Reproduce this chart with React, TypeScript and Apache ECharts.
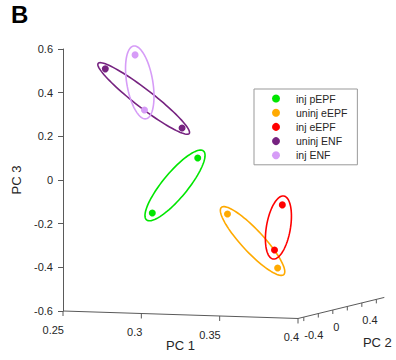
import React, { useEffect, useRef } from "react";
import * as echarts from "echarts";

// ---- data (projected PC1 / PC3 values) ----
const GROUPS = ["inj pEPF", "uninj eEPF", "inj eEPF", "uninj ENF", "inj ENF"];
const PC1_VALUES = [
  [0.336, 0.307],
  [0.355, 0.387],
  [0.39, 0.385],
  [0.277, 0.326],
  [0.296, 0.302],
];
const PC3_VALUES = [
  [0.101, -0.151],
  [-0.156, -0.403],
  [-0.114, -0.321],
  [0.509, 0.238],
  [0.573, 0.321],
];
const PC1_TICKS = [0.25, 0.3, 0.35, 0.4];
const PC2_TICKS = [-0.6, -0.4, -0.2, 0, 0.2, 0.4];
const PC2_LABELED = [-0.4, 0, 0.4];
const PC3_TICKS = [-0.6, -0.4, -0.2, 0, 0.2, 0.4, 0.6];

// ---- styles ----
const COLORS = ["#00e600", "#ffaa00", "#ff0000", "#762380", "#d69cf7"];
const ELLIPSE_MINOR = [12.5, 11, 12, 9, 13];
const ELLIPSE_EXT = 9;
const FONT = "Liberation Sans, Arial, Helvetica, sans-serif";
const AXIS_COLOR = "#5a5a5a";
const TEXT_COLOR = "#262626";

// axis limits / projection of the 3D box
const PC1_MIN = 0.25;
const PC1_MAX = 0.4;
const PC3_MIN = -0.6;
const PC3_MAX = 0.6;
const PC2_MIN = -0.68;
const PC2_MAX = 0.51;
const PC1_TILT = 0.229; // PC3 units dropped per PC1 unit along the front-bottom edge
const PC2_DIR = [0.0463, 0.0811]; // screen (PC1, PC3) units per PC2 unit

const pc1Point = (u: number) => [u, PC3_MIN - PC1_TILT * (u - PC1_MIN)];
const pc2Point = (v: number) => {
  const base = pc1Point(PC1_MAX);
  return [base[0] + (v - PC2_MIN) * PC2_DIR[0], base[1] + (v - PC2_MIN) * PC2_DIR[1]];
};

export default function App() {
  const ref = useRef<HTMLDivElement>(null);
  useEffect(() => {
    if (!ref.current) return;
    document.body.style.margin = "0";
    const chart = echarts.init(ref.current, undefined, { renderer: "svg" });

    const scatterSeries = GROUPS.map((g, i) => ({
      name: g,
      type: "scatter",
      symbol: "circle",
      symbolSize: 7,
      itemStyle: { color: COLORS[i], opacity: 1 },
      data: PC1_VALUES[i].map((x, k) => [x, PC3_VALUES[i][k]]),
      z: 3,
    }));

    const ellipseData = GROUPS.map((_, i) => [
      PC1_VALUES[i][0],
      PC3_VALUES[i][0],
      PC1_VALUES[i][1],
      PC3_VALUES[i][1],
      i,
    ]);

    const ellipseSeries = {
      type: "custom",
      name: "ellipses",
      silent: true,
      clip: false,
      z: 2,
      data: ellipseData,
      renderItem: (params: any, api: any) => {
        const p1 = api.coord([api.value(0), api.value(1)]);
        const p2 = api.coord([api.value(2), api.value(3)]);
        const gi = api.value(4);
        const cx = (p1[0] + p2[0]) / 2;
        const cy = (p1[1] + p2[1]) / 2;
        const dx = p2[0] - p1[0];
        const dy = p2[1] - p1[1];
        const len = Math.sqrt(dx * dx + dy * dy);
        const a = len / 2 + ELLIPSE_EXT;
        const b = ELLIPSE_MINOR[gi];
        const ux = dx / len;
        const uy = dy / len;
        const pts: number[][] = [];
        for (let k = 0; k <= 96; k++) {
          const t = (k / 96) * Math.PI * 2;
          const ca = a * Math.cos(t);
          const sb = b * Math.sin(t);
          pts.push([cx + ca * ux - sb * uy, cy + ca * uy + sb * ux]);
        }
        return {
          type: "polygon",
          shape: { points: pts },
          style: { fill: "none", stroke: COLORS[gi], lineWidth: 1.6 },
        };
      },
    };

    const axesSeries = {
      type: "custom",
      name: "axes",
      silent: true,
      clip: false,
      z: 1,
      data: [[0]],
      renderItem: (params: any, api: any) => {
        const children: any[] = [];
        const lineStyle = { stroke: AXIS_COLOR, lineWidth: 1 };
        const txt = (x: number, y: number, text: string, align: string, size = 11) => ({
          type: "text",
          x,
          y,
          style: {
            text,
            fill: TEXT_COLOR,
            font: `${size}px ${FONT}`,
            align,
            verticalAlign: "middle",
          },
        });
        // PC1 axis (front bottom edge)
        const a0 = api.coord(pc1Point(PC1_MIN));
        const a1 = api.coord(pc1Point(PC1_MAX));
        children.push({ type: "line", shape: { x1: a0[0], y1: a0[1], x2: a1[0], y2: a1[1] }, style: lineStyle });
        PC1_TICKS.forEach((t) => {
          const p = api.coord(pc1Point(t));
          children.push({ type: "line", shape: { x1: p[0], y1: p[1], x2: p[0], y2: p[1] + 5 }, style: lineStyle });
          children.push(txt(p[0] + 1, p[1] + 19, String(t), "right"));
        });
        const nm1 = api.coord(pc1Point((PC1_MIN + PC1_MAX) / 2));
        children.push(txt(nm1[0], nm1[1] + 31, "PC 1", "center", 13));
        // PC2 axis (right bottom edge)
        const b0 = api.coord(pc2Point(PC2_MIN));
        const b1 = api.coord(pc2Point(PC2_MAX));
        children.push({ type: "line", shape: { x1: b0[0], y1: b0[1], x2: b1[0], y2: b1[1] }, style: lineStyle });
        PC2_TICKS.forEach((t) => {
          const p = api.coord(pc2Point(t));
          children.push({ type: "line", shape: { x1: p[0], y1: p[1], x2: p[0], y2: p[1] + 4 }, style: lineStyle });
        });
        PC2_LABELED.forEach((t) => {
          const p = api.coord(pc2Point(t));
          children.push(txt(p[0] - 14, p[1] + 21, String(t), "left"));
        });
        const nm2 = api.coord(pc2Point(0.4));
        children.push(txt(nm2[0] + 1, nm2[1] + 43, "PC 2", "center", 13));
        return { type: "group", children };
      },
    };

    chart.setOption({
      animation: false,
      backgroundColor: "#ffffff",
      textStyle: { fontFamily: FONT },
      title: {
        text: "B",
        left: 11,
        top: 2,
        padding: 0,
        textStyle: { fontSize: 24, fontWeight: "bold", color: "#000", fontFamily: FONT },
      },
      grid: { left: 63, right: 4, top: 49, bottom: 49, containLabel: false },
      xAxis: {
        type: "value",
        min: PC1_MIN,
        max: 0.46,
        show: false,
      },
      yAxis: {
        type: "value",
        min: PC3_MIN,
        max: PC3_MAX,
        interval: 0.2,
        name: "PC 3",
        nameLocation: "middle",
        nameGap: 37,
        nameRotate: 90,
        nameTextStyle: { fontSize: 13, color: TEXT_COLOR, fontFamily: FONT },
        axisLine: { show: true, lineStyle: { color: AXIS_COLOR, width: 1 } },
        axisTick: { show: true, length: 5, inside: false, lineStyle: { color: AXIS_COLOR } },
        axisLabel: {
          fontSize: 11,
          color: TEXT_COLOR,
          margin: 10,
          fontFamily: FONT,
          customValues: PC3_TICKS,
          formatter: (v: number) => String(Math.round(v * 10) / 10),
        },
        splitLine: { show: false },
      },
      legend: {
        data: GROUPS,
        orient: "vertical",
        left: 254,
        top: 89,
        icon: "circle",
        itemWidth: 30,
        itemHeight: 8,
        itemGap: 3.2,
        padding: [4, 10, 4, 18],
        borderColor: "#999",
        borderWidth: 1,
        textStyle: { fontSize: 10.5, color: TEXT_COLOR, fontFamily: FONT, lineHeight: 10 },
      },
      series: [axesSeries, ellipseSeries, ...scatterSeries],
    });
    return () => chart.dispose();
  }, []);
  return <div ref={ref} style={{ width: 396, height: 360 }} />;
}
